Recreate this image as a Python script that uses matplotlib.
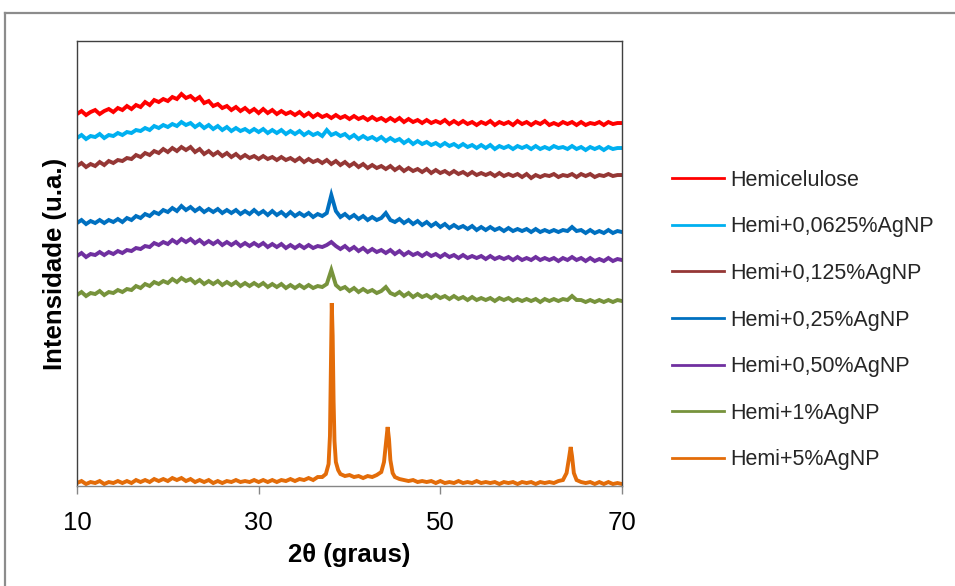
import numpy as np
import matplotlib
matplotlib.use("Agg")
import matplotlib.pyplot as plt
from matplotlib.lines import Line2D

plt.rcParams['font.family'] = ['Liberation Sans', 'DejaVu Sans']

# 2theta sampling grid for the amorphous patterns (0.5 deg steps)
two_theta = np.arange(10.0, 70.01, 0.5)

# intensities (a.u.), already stacked with their vertical offsets
hemicelulose = [
    372, 375, 371, 374, 376, 372, 375, 377, 374, 378,
    376, 380, 377, 381, 379, 384, 381, 386, 384, 387,
    385, 389, 387, 392, 388, 390, 386, 389, 383, 385,
    380, 382, 378, 380, 376, 379, 375, 378, 374, 377,
    373, 377, 373, 376, 372, 375, 372, 374, 371, 374,
    370, 373, 369, 372, 369, 371, 368, 371, 368, 370,
    367, 370, 367, 369, 366, 369, 366, 368, 365, 368,
    365, 368, 364, 367, 364, 366, 363, 366, 363, 365,
    363, 366, 362, 365, 362, 365, 362, 364, 361, 364,
    362, 365, 361, 364, 362, 364, 361, 365, 362, 364,
    361, 364, 362, 365, 361, 363, 361, 364, 362, 364,
    361, 364, 361, 363, 362, 364, 361, 364, 362, 363,
    363]
hemi_0625 = [
    348, 351, 347, 350, 349, 352, 348, 351, 350, 353,
    351, 354, 353, 356, 355, 358, 356, 360, 358, 361,
    359, 362, 360, 364, 361, 363, 359, 362, 358, 361,
    357, 360, 356, 359, 355, 358, 355, 357, 354, 357,
    354, 357, 353, 356, 353, 356, 352, 355, 352, 355,
    351, 354, 351, 353, 350, 356, 351, 353, 350, 352,
    348, 351, 347, 350, 347, 349, 346, 349, 345, 348,
    345, 347, 343, 346, 342, 345, 342, 344, 341, 343,
    340, 343, 340, 342, 339, 342, 339, 341, 338, 341,
    338, 341, 337, 340, 338, 340, 337, 340, 338, 340,
    337, 340, 337, 339, 337, 340, 338, 339, 337, 340,
    337, 339, 336, 339, 337, 339, 336, 339, 337, 338,
    338]
hemi_125 = [
    320, 323, 319, 322, 320, 324, 321, 325, 323, 326,
    325, 328, 327, 331, 329, 333, 331, 335, 333, 337,
    334, 338, 335, 339, 336, 339, 334, 337, 332, 335,
    331, 334, 330, 333, 329, 332, 328, 331, 328, 330,
    327, 330, 327, 329, 326, 329, 326, 328, 325, 328,
    324, 327, 324, 326, 323, 326, 322, 325, 321, 324,
    320, 323, 319, 322, 318, 321, 318, 320, 317, 320,
    316, 319, 315, 318, 315, 317, 314, 317, 313, 316,
    313, 315, 312, 315, 312, 314, 311, 314, 311, 313,
    311, 313, 310, 313, 310, 312, 310, 312, 309, 312,
    308, 311, 309, 311, 310, 312, 309, 311, 310, 312,
    309, 312, 310, 312, 309, 311, 310, 312, 310, 311,
    311]
hemi_25 = [
    263, 266, 262, 265, 263, 266, 263, 266, 264, 267,
    264, 268, 266, 270, 268, 272, 270, 274, 272, 276,
    274, 278, 275, 280, 276, 279, 275, 278, 274, 277,
    274, 277, 273, 276, 273, 276, 272, 275, 272, 276,
    272, 275, 271, 275, 271, 274, 270, 274, 270, 273,
    270, 273, 269, 272, 270, 273, 291, 275, 269, 272,
    268, 271, 267, 270, 266, 269, 266, 268, 273, 266,
    264, 267, 263, 266, 262, 265, 261, 264, 260, 263,
    259, 262, 258, 261, 258, 260, 257, 260, 256, 259,
    256, 259, 256, 258, 255, 258, 255, 257, 255, 257,
    254, 257, 254, 256, 254, 256, 254, 256, 255, 259,
    255, 256, 253, 256, 253, 255, 253, 256, 253, 255,
    254]
hemi_50 = [
    230, 233, 229, 232, 231, 234, 231, 234, 232, 235,
    233, 236, 235, 238, 237, 240, 239, 243, 241, 244,
    242, 246, 243, 247, 244, 247, 243, 246, 242, 245,
    242, 245, 241, 244, 241, 244, 240, 243, 240, 243,
    240, 243, 239, 242, 239, 242, 238, 241, 238, 241,
    238, 241, 238, 240, 239, 241, 244, 240, 237, 240,
    236, 239, 235, 238, 234, 237, 234, 236, 233, 236,
    232, 235, 231, 234, 231, 233, 230, 233, 230, 232,
    229, 232, 229, 231, 228, 231, 228, 230, 228, 230,
    227, 230, 227, 229, 227, 229, 226, 229, 226, 228,
    226, 229, 226, 228, 226, 228, 225, 228, 226, 229,
    226, 228, 225, 228, 225, 227, 225, 228, 225, 227,
    226]
hemi_1 = [
    191, 194, 190, 193, 192, 195, 191, 194, 193, 196,
    194, 197, 196, 200, 198, 202, 200, 204, 202, 205,
    203, 207, 204, 208, 205, 207, 203, 206, 202, 205,
    202, 205, 201, 204, 201, 204, 200, 203, 200, 203,
    200, 203, 199, 202, 199, 202, 198, 201, 198, 201,
    198, 201, 198, 200, 199, 202, 216, 201, 197, 199,
    195, 198, 194, 197, 194, 196, 193, 195, 199, 193,
    191, 194, 190, 193, 189, 192, 189, 191, 188, 191,
    188, 190, 187, 190, 187, 189, 186, 189, 186, 188,
    186, 188, 185, 188, 186, 188, 185, 187, 185, 187,
    185, 187, 184, 187, 185, 187, 185, 187, 186, 190,
    186, 186, 184, 186, 184, 186, 184, 186, 184, 186,
    185]

# 5% AgNP has sharp Ag reflections, so it gets its own finer 2theta list
two_theta_5 = [
    10.0, 10.5, 11.0, 11.5, 12.0, 12.5, 13.0, 13.5, 14.0, 14.5,
    15.0, 15.5, 16.0, 16.5, 17.0, 17.5, 18.0, 18.5, 19.0, 19.5,
    20.0, 20.5, 21.0, 21.5, 22.0, 22.5, 23.0, 23.5, 24.0, 24.5,
    25.0, 25.5, 26.0, 26.5, 27.0, 27.5, 28.0, 28.5, 29.0, 29.5,
    30.0, 30.5, 31.0, 31.5, 32.0, 32.5, 33.0, 33.5, 34.0, 34.5,
    35.0, 35.5, 36.0, 36.5, 37.0, 37.4, 37.7, 37.85, 37.95, 38.05,
    38.15, 38.25, 38.35, 38.5, 38.75, 39.0, 39.5, 40.0, 40.5, 41.0,
    41.5, 42.0, 42.5, 43.0, 43.5, 43.8, 44.0, 44.2, 44.35, 44.5,
    44.75, 45.0, 45.5, 46.0, 46.5, 47.0, 47.5, 48.0, 48.5, 49.0,
    49.5, 50.0, 50.5, 51.0, 51.5, 52.0, 52.5, 53.0, 53.5, 54.0,
    54.5, 55.0, 55.5, 56.0, 56.5, 57.0, 57.5, 58.0, 58.5, 59.0,
    59.5, 60.0, 60.5, 61.0, 61.5, 62.0, 62.5, 63.0, 63.5, 63.9,
    64.15, 64.35, 64.5, 64.7, 65.0, 65.5, 66.0, 66.5, 67.0, 67.5,
    68.0, 68.5, 69.0, 69.5, 70.0]
hemi_5 = [
    3, 5, 2, 4, 3, 5, 2, 4, 3, 5,
    3, 5, 3, 6, 4, 6, 4, 7, 5, 7,
    5, 8, 6, 8, 5, 7, 4, 6, 4, 6,
    3, 5, 3, 5, 4, 6, 4, 5, 4, 6,
    4, 6, 4, 6, 4, 6, 5, 7, 5, 7,
    6, 8, 6, 9, 9, 12, 22, 50, 115, 183,
    150, 85, 45, 24, 16, 12, 10, 11, 9, 10,
    8, 10, 9, 11, 14, 24, 42, 59, 47, 26,
    13, 9, 7, 6, 5, 6, 4, 5, 4, 5,
    3, 5, 3, 4, 3, 5, 3, 4, 3, 5,
    3, 4, 3, 4, 2, 4, 3, 4, 2, 4,
    3, 4, 2, 4, 3, 4, 3, 5, 6, 13,
    27, 39, 30, 13, 6, 4, 3, 4, 2, 4,
    2, 4, 2, 3, 2]

labels = ["Hemicelulose", "Hemi+0,0625%AgNP", "Hemi+0,125%AgNP",
          "Hemi+0,25%AgNP", "Hemi+0,50%AgNP", "Hemi+1%AgNP", "Hemi+5%AgNP"]
colors = ["#FF0000", "#00B0F0", "#953735", "#0070C0", "#7030A0",
          "#77933C", "#E36C09"]

series = [(two_theta, hemicelulose), (two_theta, hemi_0625),
          (two_theta, hemi_125), (two_theta, hemi_25),
          (two_theta, hemi_50), (two_theta, hemi_1),
          (two_theta_5, hemi_5)]

fig = plt.figure(figsize=(9.55, 5.86), dpi=100)
ax = fig.add_axes([0.0806, 0.1706, 0.5707, 0.7594])

for (x, y), c, lab in zip(series, colors, labels):
    ax.plot(x, y, color=c, lw=2.8, label=lab, solid_joinstyle="miter")

ax.set_xlim(10, 70)
ax.set_ylim(0, 445)
ax.set_xticks([10, 30, 50, 70])
ax.set_yticks([])
ax.tick_params(axis="x", labelsize=18.5, length=6, width=1, color="#868686",
               direction="out", pad=12)
for side in ["top", "left", "right"]:
    ax.spines[side].set_color("#404040")
    ax.spines[side].set_linewidth(1.0)
ax.spines["bottom"].set_color("#868686")
ax.spines["bottom"].set_linewidth(1.0)

ax.set_xlabel("2θ (graus)", fontsize=18.5, fontweight="bold", labelpad=6)
ax.set_ylabel("Intensidade (u.a.)", fontsize=18.5, fontweight="bold", labelpad=7)

leg = fig.legend(loc="upper left", bbox_to_anchor=(0.695, 0.725),
                 frameon=False, fontsize=15.5, handlelength=2.4,
                 handletextpad=0.28, labelspacing=1.19, borderaxespad=0)
for h in leg.get_lines():
    h.set_linewidth(2.0)
for t in leg.get_texts():
    t.set_color("#262626")

# outer chart-area border (only top and left edges are visible in the crop)
fig.add_artist(Line2D([0.0052, 1.0], [0.978, 0.978], color="#8c8c8c",
                      lw=1.6, transform=fig.transFigure))
fig.add_artist(Line2D([0.0052, 0.0052], [0.0, 0.978], color="#8c8c8c",
                      lw=1.6, transform=fig.transFigure))

fig.savefig("out.png", dpi=100)
